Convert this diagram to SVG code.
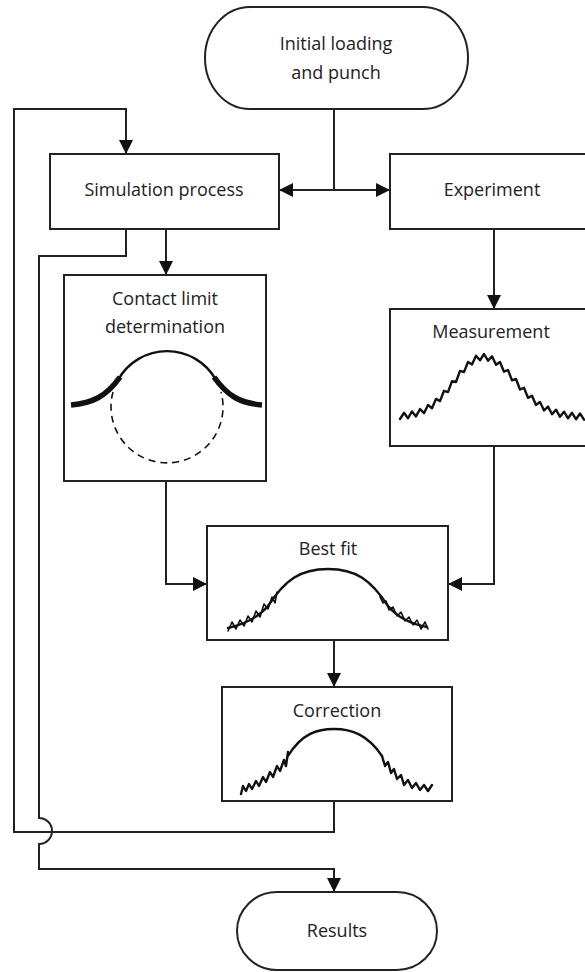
<svg xmlns="http://www.w3.org/2000/svg" width="585" height="972" viewBox="0 0 585 972">
  <style>
    .box { fill: #fff; stroke: #222; stroke-width: 2; }
    .lbl { font-family: "Open Sans", "Liberation Sans", sans-serif; font-size: 18px; fill: #222; text-anchor: middle; }
    .wire { fill: none; stroke: #222; stroke-width: 2; }
    .arr { marker-end: url(#ah); }
    .curve { fill: none; stroke: #111; stroke-width: 2.4; stroke-linejoin: round; stroke-linecap: round; }
    .noise { fill: none; stroke: #111; stroke-width: 1.6; stroke-linejoin: round; stroke-linecap: round; }
  </style>
  <defs>
    <marker id="ah" viewBox="0 0 14 14" refX="14" refY="7" markerWidth="14" markerHeight="14" orient="auto" markerUnits="userSpaceOnUse">
      <path d="M0,0 L14,7 L0,14 Z" fill="#111"/>
    </marker>
  </defs>
  <rect width="585" height="972" fill="#fff"/>

  <!-- connectors -->
  <g id="connectors">
    <path class="wire" d="M334,109 V190"/>
    <path class="wire arr" d="M334,190 H279"/>
    <path class="wire arr" d="M334,190 H390"/>
    <path class="wire arr" d="M166,229 V275"/>
    <path class="wire arr" d="M494,229 V309"/>
    <path class="wire arr" d="M166,481 V584 H207"/>
    <path class="wire arr" d="M494,446 V584 H448"/>
    <path class="wire arr" d="M334,640 V687"/>
    <path class="wire arr" d="M334,801 V832 H14 V109 H126 V154"/>
    <path class="wire arr" d="M126,229 V256 H39 V818 A13,13 0 0 1 39,844 V869 H334 V892"/>
  </g>

  <g id="initial">
    <rect class="box" x="205" y="7" width="263" height="102" rx="45" ry="51"/>
    <text class="lbl" x="336" y="50">Initial loading</text>
    <text class="lbl" x="336" y="79">and punch</text>
  </g>

  <g id="simulation">
    <rect class="box" x="50" y="154" width="229" height="75"/>
    <text class="lbl" x="164" y="196">Simulation process</text>
  </g>

  <g id="experiment">
    <rect class="box" x="390" y="154" width="210" height="75"/>
    <text class="lbl" x="492" y="196">Experiment</text>
  </g>

  <g id="contact">
    <rect class="box" x="64" y="275" width="202" height="206"/>
    <text class="lbl" x="165" y="305">Contact limit</text>
    <text class="lbl" x="165" y="333">determination</text>
    <!-- punch circle (centre 167,407 r 56): hidden lower part -->
    <path d="M113,392 A56,56 0 1 0 221,392" fill="none" stroke="#111" stroke-width="1.6" stroke-dasharray="7,5"/>
    <!-- contact arc -->
    <path d="M118,380 A56,56 0 0 1 216,380" fill="none" stroke="#111" stroke-width="2.4"/>
    <!-- sheet -->
    <path d="M71,405 C92,403 106,397 120,377" fill="none" stroke="#111" stroke-width="5.5"/>
    <path d="M262,405 C241,403 228,397 214,377" fill="none" stroke="#111" stroke-width="5.5"/>
  </g>

  <g id="measurement">
    <rect class="box" x="390" y="309" width="210" height="137"/>
    <text class="lbl" x="491" y="338">Measurement</text>
    <path class="curve" d="M400,419 L404,412.8 L408,418.2 L412,411.4 L416,416.4 L420,409 L424,413.2 L428,404.9 L432,408.2 L436,398.9 L440,401.1 L444,390.8 L448,392.1 L452,381.1 L456,382 L460,370.9 L464,372.1 L468,361.9 L472,364.4 L476,355.8 L480,360.3 L484,354 L488,360.7 L492,356.3 L496,364.8 L500,362 L504,371.7 L508,370 L512,380.4 L516,379 L520,389.5 L524,387.8 L528,397.9 L532,395.7 L536,405 L540,401.9 L544,410.5 L548,406.6 L552,414.3 L556,409.7 L560,416.8 L564,411.7 L568,418.3 L572,412.8 L576,419.2 L580,413.5 L584,419.7"/>
  </g>

  <g id="bestfit">
    <rect class="box" x="207" y="526" width="241" height="114"/>
    <text class="lbl" x="328" y="555">Best fit</text>
    <path class="curve" d="M228,628 C245,624 258,618 268,606 C285,580 300,569 328,569 C356,569 371,580 388,606 C398,618 411,624 427,627"/>
    <path class="noise" d="M228,631 L232,622 L236,629 L240,620 L244,626 L248,616 L252,622 L256,611 L260,617 L264,604 L268,609 L272,597 L275,603 L277,592"/>
    <path class="noise" d="M380,597 L383,603 L386,601 L389,610 L393,607 L397,616 L401,612 L405,621 L409,617 L413,625 L417,620 L421,629 L425,622 L428,629"/>
  </g>

  <g id="correction">
    <rect class="box" x="222" y="687" width="230" height="114"/>
    <text class="lbl" x="337" y="717">Correction</text>
    <path class="curve" d="M288,756 C302,733 318,729 334,729 C352,729 368,735 382,756"/>
    <path class="curve" d="M241,794 L243,786 L246,791 L249,784 L252,789 L256,781 L259,786 L263,777 L266,782 L270,772 L273,777 L277,766 L280,771 L284,760 L286,766 L288,752"/>
    <path class="curve" d="M382,756 L385,766 L388,762 L391,773 L394,769 L397,779 L401,775 L404,785 L408,780 L412,788 L416,783 L420,790 L424,785 L428,791 L432,785"/>
  </g>

  <g id="results">
    <rect class="box" x="237" y="892" width="200" height="78" rx="40" ry="39"/>
    <text class="lbl" x="337" y="937">Results</text>
  </g>
</svg>
